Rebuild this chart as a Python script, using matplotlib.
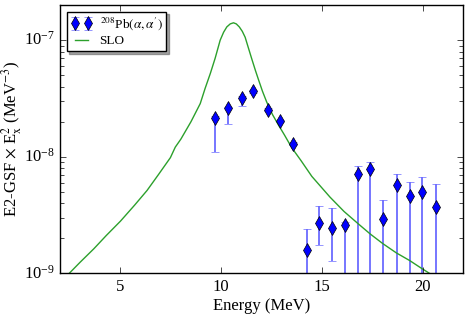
import numpy as np
import matplotlib
matplotlib.use("Agg")
import matplotlib.pyplot as plt
from matplotlib.ticker import LogLocator, NullFormatter

plt.style.use("classic")
plt.rcParams["font.family"] = "serif"
plt.rcParams["font.serif"] = ["Liberation Serif", "DejaVu Serif"]
plt.rcParams["mathtext.fontset"] = "stix"

# measured 208Pb(a,a') points: energy (MeV), value, error bar bounds
energy = [9.70, 10.35, 11.02, 11.60, 12.31, 12.92, 13.58, 14.24, 14.84,
          15.48, 16.14, 16.78, 17.41, 18.05, 18.71, 19.36, 19.98, 20.64]
gsf = [2.15e-8, 2.62e-8, 3.20e-8, 3.65e-8, 2.54e-8, 2.02e-8, 1.30e-8, 1.60e-9, 2.70e-9,
       2.45e-9, 2.62e-9, 7.17e-9, 7.81e-9, 2.91e-9, 5.69e-9, 4.64e-9, 4.99e-9, 3.69e-9]
gsf_low = [1.10e-8, 1.93e-8, 2.71e-8, 3.55e-8, 2.48e-8, 1.97e-8, 1.26e-8, 5e-10, 1.77e-9,
           1.29e-9, 5e-10, 5e-10, 5e-10, 5e-10, 5e-10, 5e-10, 5e-10, 5e-10]
gsf_high = [2.25e-8, 2.70e-8, 3.30e-8, 3.75e-8, 2.60e-8, 2.08e-8, 1.34e-8, 2.42e-9, 3.76e-9,
            3.64e-9, 2.75e-9, 8.34e-9, 8.97e-9, 4.30e-9, 7.07e-9, 6.04e-9, 6.71e-9, 5.81e-9]

# SLO curve
slo_e = [2.45, 3.0, 3.68, 4.3, 5.0, 5.7, 6.32, 6.9, 7.48, 7.72, 8.0, 8.5, 8.96, 9.2,
         9.46, 9.7, 9.95, 10.12, 10.28, 10.45, 10.61, 10.75, 10.9, 11.05, 11.19, 11.35,
         11.52, 11.7, 11.85, 12.05, 12.26, 12.55, 12.84, 13.15, 13.5, 13.96, 14.5,
         15.4, 16.1, 16.8, 17.4, 18.03, 18.7, 19.36, 19.9, 20.43]
slo_v = [1.0e-9, 1.25e-9, 1.63e-9, 2.12e-9, 2.81e-9, 3.85e-9, 5.15e-9, 7.1e-9, 9.85e-9,
         1.21e-8, 1.42e-8, 2.0e-8, 2.86e-8, 3.85e-8, 5.18e-8, 7.0e-8, 1.0e-7, 1.17e-7,
         1.30e-7, 1.38e-7, 1.41e-7, 1.38e-7, 1.30e-7, 1.19e-7, 1.06e-7, 8.6e-8, 6.9e-8,
         5.5e-8, 4.6e-8, 3.65e-8, 2.95e-8, 2.3e-8, 1.88e-8, 1.53e-8, 1.2e-8, 9.3e-9,
         6.8e-9, 4.52e-9, 3.4e-9, 2.67e-9, 2.18e-9, 1.80e-9, 1.5e-9, 1.29e-9, 1.12e-9,
         0.98e-9]

gsf = np.array(gsf)
yerr = [gsf - np.array(gsf_low), np.array(gsf_high) - gsf]

fig = plt.figure(figsize=(4.69, 3.18), dpi=100)
ax = fig.add_axes([0.128, 0.14, 0.859, 0.844])

data = ax.errorbar(energy, gsf, yerr=yerr, fmt="d", color="blue", mec="black", mew=0.5,
                   ms=7, ecolor="#6b6bff", elinewidth=1.3, capsize=3, capthick=1.3,
                   label=r"$^{208}$Pb$(\alpha,\alpha^{\prime})$")
slo, = ax.plot(slo_e, slo_v, color="#2ca02c", lw=1.0, label="SLO")

ax.set_yscale("log")
ax.set_xlim(2, 22)
ax.set_ylim(1e-9, 2e-7)
ax.set_xticks([5, 10, 15, 20])
ax.yaxis.set_minor_locator(LogLocator(base=10, subs=range(2, 10)))
ax.yaxis.set_minor_formatter(NullFormatter())
ax.tick_params(labelsize=12)
ax.tick_params(which="minor", length=3)
ax.set_xlabel("Energy (MeV)", fontsize=12, labelpad=2)
ax.set_ylabel(r"E2-GSF $\times$ E$_{\mathrm{x}}^{2}$ (MeV$^{-3}$)", fontsize=12)
ax.yaxis.set_label_coords(-0.09, 0.5)
ax.legend([data, slo], [data.get_label(), "SLO"], loc="upper left", fontsize=9.5,
          numpoints=2, shadow=True, handlelength=1.6, handletextpad=0.6,
          borderpad=0.3, labelspacing=0.2)

fig.savefig("out.png", dpi=100)
